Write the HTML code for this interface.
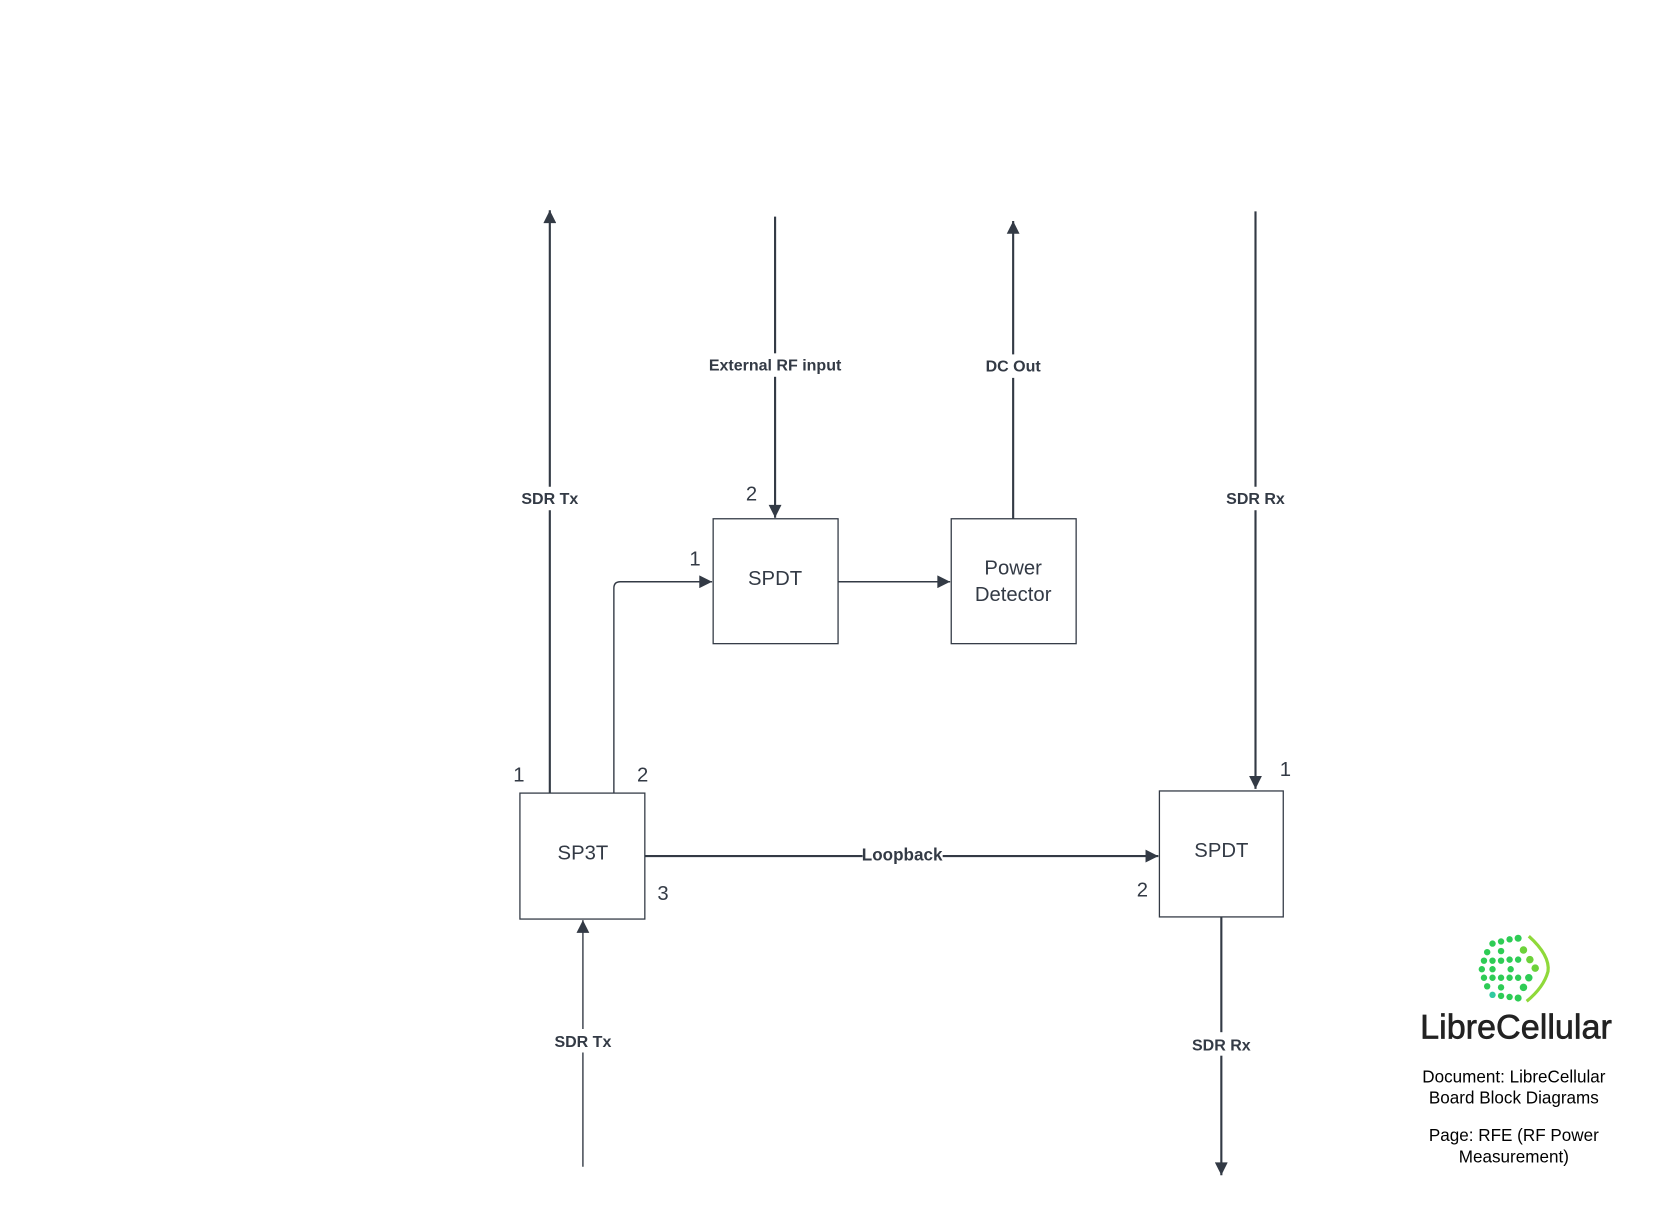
<!DOCTYPE html>
<html><head><meta charset="utf-8"><style>
html,body{margin:0;padding:0;background:#fff;}
svg{display:block;}
text{font-family:"Liberation Sans",Arial,sans-serif;fill:#333a45;}
.b{font-weight:bold;font-size:15px;}
.n{font-size:19px;}
.box{fill:#fff;stroke:#333a45;stroke-width:1.2;}
.l{stroke:#333a45;stroke-width:2;fill:none;}
.t{stroke:#333a45;stroke-width:1.3;fill:none;}
</style></head><body>
<svg width="1674" height="1219" viewBox="0 0 1568 1142" preserveAspectRatio="none">
<defs>
<marker id="a" viewBox="0 0 10 10" refX="10" refY="5" markerWidth="14" markerHeight="12" markerUnits="userSpaceOnUse" orient="auto"><path d="M0,0 L10,5 L0,10 z" fill="#333a45"/></marker>
</defs>
<g>
<path class="l" d="M515,743 L515,197" marker-end="url(#a)"/>
<path class="l" d="M726,203 L726,485" marker-end="url(#a)"/>
<path class="l" d="M949,486 L949,207" marker-end="url(#a)"/>
<path class="l" d="M1176,198 L1176,739" marker-end="url(#a)"/>
<path class="t" d="M575,743 L575,551 Q575,545 581,545 L667,545" marker-end="url(#a)"/>
<path class="t" d="M785,545 L890,545" marker-end="url(#a)"/>
<path class="l" d="M604,802 L1085,802" marker-end="url(#a)"/>
<path class="t" d="M546,1093 L546,862" marker-end="url(#a)"/>
<path class="l" d="M1144,859 L1144,1101" marker-end="url(#a)"/>
<rect x="484" y="456" width="62" height="22" fill="#fff"/>
<rect x="656" y="331" width="140" height="22" fill="#fff"/>
<rect x="918" y="332" width="62" height="22" fill="#fff"/>
<rect x="1144" y="456" width="64" height="22" fill="#fff"/>
<rect x="808" y="791" width="75" height="20" fill="#fff"/>
<rect x="515" y="964" width="62" height="22" fill="#fff"/>
<rect x="1112" y="967" width="64" height="22" fill="#fff"/>
<rect class="box" x="487" y="743" width="117" height="118"/>
<rect class="box" x="668" y="486" width="117" height="117"/>
<rect class="box" x="891" y="486" width="117" height="117"/>
<rect class="box" x="1086" y="741" width="116" height="118"/>
<g text-anchor="middle">
<text x="546" y="805" class="n">SP3T</text>
<text x="726" y="548" class="n">SPDT</text>
<text x="949" y="538" class="n">Power</text>
<text x="949" y="563" class="n">Detector</text>
<text x="1144" y="803" class="n">SPDT</text>
</g>
<g text-anchor="middle">
<text x="515" y="472" class="b">SDR Tx</text>
<text x="726" y="347" class="b">External RF input</text>
<text x="949" y="348" class="b">DC Out</text>
<text x="1176" y="472" class="b">SDR Rx</text>
<text x="845" y="806" class="b" style="font-size:16px">Loopback</text>
<text x="546" y="981" class="b">SDR Tx</text>
<text x="1144" y="984" class="b">SDR Rx</text>
</g>
<g text-anchor="middle">
<text x="704" y="469" class="n">2</text>
<text x="651" y="530" class="n">1</text>
<text x="486" y="732" class="n">1</text>
<text x="602" y="732" class="n">2</text>
<text x="621" y="843" class="n">3</text>
<text x="1204" y="727" class="n">1</text>
<text x="1070" y="840" class="n">2</text>
</g>
<g>
<path d="M1432,877 Q1452,895 1450,910 Q1446,925 1430,938" stroke="#8fd93a" stroke-width="3" fill="none"/>
<g fill="#2ecc55">
<circle cx="1398" cy="884" r="3"/><circle cx="1406" cy="882" r="3"/><circle cx="1414" cy="880" r="3"/><circle cx="1422" cy="879" r="3.3"/>
<circle cx="1393" cy="892" r="3"/><circle cx="1406" cy="891" r="3"/><circle cx="1427" cy="890" r="3.5" fill="#6cd23a"/>
<circle cx="1390" cy="900" r="3"/><circle cx="1398" cy="900" r="3"/><circle cx="1406" cy="900" r="3"/><circle cx="1414" cy="899" r="3"/><circle cx="1422" cy="899" r="3"/><circle cx="1433" cy="899" r="3.5" fill="#6cd23a"/>
<circle cx="1388" cy="908" r="3"/><circle cx="1398" cy="908" r="3"/><circle cx="1415" cy="908" r="3"/><circle cx="1438" cy="907" r="3.5" fill="#6cd23a"/>
<circle cx="1390" cy="916" r="3"/><circle cx="1398" cy="916" r="3"/><circle cx="1406" cy="916" r="3"/><circle cx="1414" cy="916" r="3"/><circle cx="1422" cy="916" r="3"/><circle cx="1432" cy="916" r="3.5"/>
<circle cx="1393" cy="924" r="3"/><circle cx="1406" cy="925" r="3"/><circle cx="1427" cy="925" r="3.5"/>
<circle cx="1398" cy="932" r="3" fill="#30c9a0"/><circle cx="1406" cy="933" r="3"/><circle cx="1414" cy="934" r="3"/><circle cx="1422" cy="935" r="3.3"/>
</g>
<text x="1420" y="973" text-anchor="middle" font-size="32" style="fill:#222;stroke:#222;stroke-width:0.6">LibreCellular</text>
</g>
<g text-anchor="middle" font-size="16">
<text x="1418" y="1014" style="fill:#000">Document: LibreCellular</text>
<text x="1418" y="1034" style="fill:#000">Board Block Diagrams</text>
<text x="1418" y="1069" style="fill:#000">Page: RFE (RF Power</text>
<text x="1418" y="1089" style="fill:#000">Measurement)</text>
</g>
</g>
</svg>
</body></html>
